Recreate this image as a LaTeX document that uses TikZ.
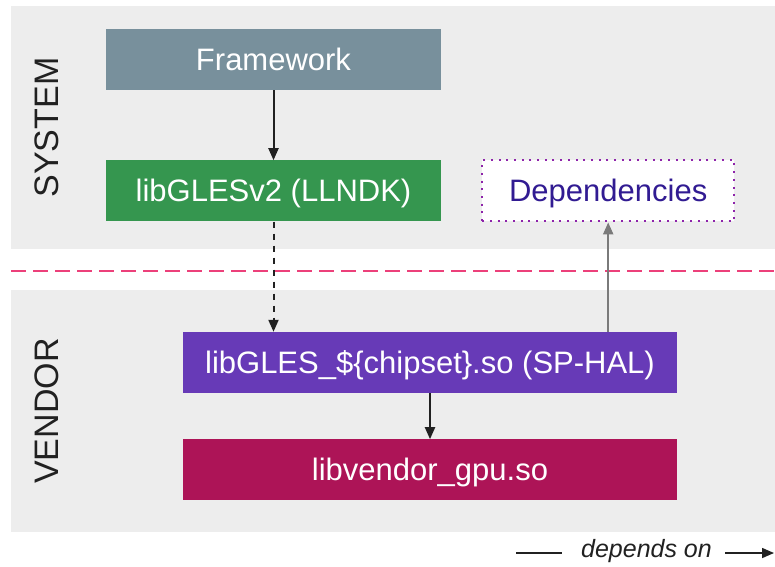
\documentclass[tikz,border=0pt]{standalone}
\usepackage{fontspec}
\setmainfont{Liberation Sans}
\usetikzlibrary{positioning, arrows.meta}
\definecolor{panelgray}{HTML}{EDEDED}
\definecolor{fwgray}{HTML}{78909C}
\definecolor{llndkgreen}{HTML}{35964F}
\definecolor{halpurple}{HTML}{673AB7}
\definecolor{vendorpink}{HTML}{AD1457}
\definecolor{depspurple}{HTML}{311B92}
\definecolor{dotpurple}{HTML}{8E24AA}
\definecolor{splitpink}{HTML}{EC407A}
\definecolor{inkgray}{HTML}{212121}
\definecolor{deparrow}{HTML}{7A7A7A}
\tikzset{
    x=1pt, y=-1pt, % One unit per pixel, y running down
    >={Triangle[length=12pt,width=10pt]}, % Solid arrowheads
    lib/.style={minimum height=61pt, inner sep=0pt, text height=22pt, text depth=0pt,
        text=white, font=\fontsize{31}{36}\selectfont}, % Library boxes
    side/.style={rotate=90, text=inkgray, font=\fontsize{34}{40}\selectfont}, % Partition labels
    dep/.style={->, line width=2pt, draw=inkgray}, % Dependency edges
}
\begin{document}
\begin{tikzpicture}
    \useasboundingbox (0,0) rectangle (775,566);
    \fill[panelgray] (11,6) rectangle (775,249);
    \fill[panelgray] (11,290) rectangle (775,532);
    \draw[splitpink, line width=2.2pt, dash pattern=on 15pt off 7pt] (11,271) -- (775,271);

    \node[side] (sys) at (47,127.5) {SYSTEM};
    \node[side] (ven) at (47,411) {VENDOR};

    \node[lib, fill=fwgray, minimum width=335pt] (fw) at (273.5,59.5) {Framework};
    \node[lib, fill=llndkgreen, minimum width=335pt] (gles) [below=70pt of fw] {libGLESv2 (LLNDK)};
    \node[lib, fill=white, text=depspurple, minimum width=252pt, draw=dotpurple, line width=2pt,
        dash pattern=on 2pt off 5.7pt] (deps) [right=40pt of gles] {Dependencies};
    \node[lib, fill=halpurple, minimum width=494pt] (hal) at (430,362.5) {libGLES\_\$\{chipset\}.so (SP-HAL)};
    \node[lib, fill=vendorpink, minimum width=494pt] (gpu) [below=46pt of hal] {libvendor\_gpu.so};

    \draw[dep] (fw) -- (gles);
    \draw[dep, dash pattern=on 6pt off 6pt] (gles) -- (gles |- hal.north);
    \draw[dep] (hal) -- (gpu);
    \draw[->, draw=deparrow, line width=2pt] (deps.south |- hal.north) -- (deps);

    % legend
    \node[font=\itshape\fontsize{25}{28}\selectfont, text=inkgray, inner sep=0pt] (key) at (646.5,551.5) {depends on};
    \coordinate (keyL) at (516,553);
    \coordinate (keyR) at (774,553);
    \draw[line width=1.6pt, inkgray, shorten >=19pt] (keyL) -- (keyL -| key.west);
    \draw[->, line width=1.6pt, inkgray, shorten <=13pt] (keyR -| key.east) -- (keyR);
\end{tikzpicture}
\end{document}
